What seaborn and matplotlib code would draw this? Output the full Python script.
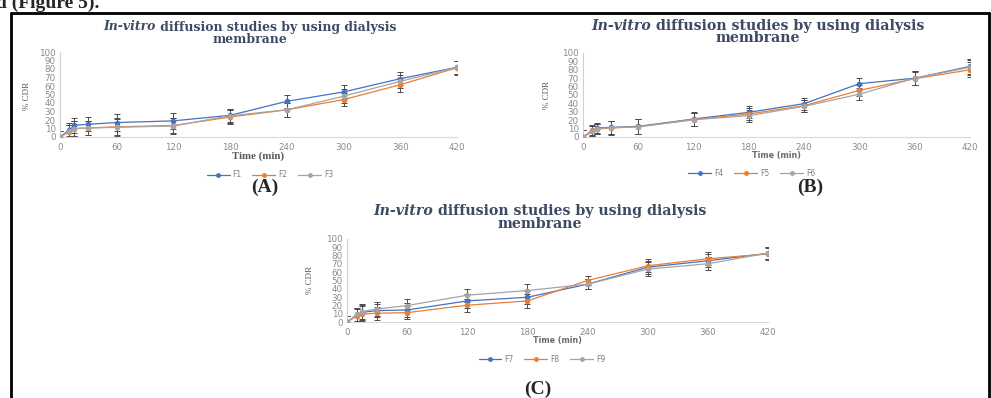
import matplotlib
matplotlib.use("Agg")
import matplotlib.pyplot as plt
import seaborn as sns
import pandas as pd
from matplotlib.lines import Line2D

# data
times = [0, 10, 15, 30, 60, 120, 180, 240, 300, 360, 420]

f1 = [0, 8.6, 13.7, 15, 17, 19, 25.5, 42, 53, 68.6, 82]
f2 = [0, 6, 10, 10.6, 12, 13.5, 23.5, 32, 44, 61.5, 81.5]
f3 = [0, 6.7, 10, 10.6, 11.4, 13, 25, 32, 48, 65.5, 82]
err_a = [7, 8, 9, 8, 10, 9, 8, 8, 8, 8, 8]

f4 = [0, 6.7, 10.7, 11.5, 12.7, 21.4, 29.4, 39.7, 63.5, 70, 84]
f5 = [0, 8, 9.5, 10.7, 12.3, 20.6, 27.4, 37.3, 55.5, 69.4, 80]
f6 = [0, 6.7, 10, 11, 12, 20.6, 25.4, 36.5, 51, 70, 83]
err_b = [8, 6, 6, 8, 9, 8, 7, 7, 7, 8, 9]

f7 = [0, 8.5, 11.7, 13.7, 14.5, 25.4, 29.8, 45.6, 66, 73.8, 82.8]
f8 = [0, 7.3, 9.7, 10.5, 11.3, 20.2, 25.4, 50, 67.7, 76.2, 82]
f9 = [0, 9.3, 12.5, 15.7, 19.8, 32.3, 37.9, 45.6, 63.7, 70.2, 83]
err_c = [7, 8, 9, 8, 8, 8, 8, 6, 8, 8, 7]

xticks = [0, 60, 120, 180, 240, 300, 360, 420]
yticks = list(range(0, 101, 10))

colors = ["#4472C4", "#ED7D31", "#A5A5A5"]
title_col = "#3d4a63"
tick_col = "#8a8a8a"

sns.set_style("white")
plt.rcParams["font.family"] = ["DejaVu Sans"]

W, H = 991, 398
fig = plt.figure(figsize=(W / 100, H / 100), dpi=100)


def fx(px):
    return px / W


def fy(py):
    return 1 - py / H


def mixed_title(cx, cy, target_w):
    # title line with an italic part, sized so it spans target_w pixels
    r = fig.canvas.get_renderer()
    kw = dict(weight="bold", family="DejaVu Serif", size=10, color=title_col, va="center")
    t1 = fig.text(0, 0, "In-vitro", style="italic", **kw)
    t2 = fig.text(0, 0, " diffusion studies by using dialysis", **kw)
    w = t1.get_window_extent(r).width + t2.get_window_extent(r).width
    size = 10 * target_w / w
    t1.set_fontsize(size)
    t2.set_fontsize(size)
    w1 = t1.get_window_extent(r).width
    w2 = t2.get_window_extent(r).width
    start = cx - (w1 + w2) / 2
    t1.set_position((fx(start), fy(cy)))
    t2.set_position((fx(start + w1), fy(cy)))
    return size


def panel(rect, series, names, err, title_xy, title_w, ylab_xy, xlab_y,
          xlab_serif, leg_xy, tag, tag_xy):
    left, top, right, bottom = rect
    ax = fig.add_axes([fx(left), fy(bottom), fx(right - left), (bottom - top) / H])
    df = pd.DataFrame({"t": times * 3,
                       "v": series[0] + series[1] + series[2],
                       "s": [names[0]] * len(times) + [names[1]] * len(times) + [names[2]] * len(times)})
    for vals in series:
        ax.errorbar(times, vals, yerr=err, fmt="none", ecolor="#4a4a4a",
                    elinewidth=0.7, capsize=2, capthick=0.7, zorder=1)
    sns.lineplot(data=df, x="t", y="v", hue="s", palette=colors, marker="o",
                 markersize=4, markeredgewidth=0, linewidth=0.9, ax=ax,
                 legend=False, zorder=3)
    ax.set_xlim(0, 420)
    ax.set_ylim(0, 100)
    ax.set_xticks(xticks)
    ax.set_yticks(yticks)
    ax.tick_params(length=0, labelsize=6.3, labelcolor=tick_col, pad=3)
    ax.tick_params(axis="x", pad=4)
    for s in ["top", "right"]:
        ax.spines[s].set_visible(False)
    ax.spines["left"].set_color("#d0d0d0")
    ax.spines["bottom"].set_color("#d9d9d9")
    ax.spines["left"].set_linewidth(0.8)
    ax.spines["bottom"].set_linewidth(0.8)
    ax.set_xlabel("")
    ax.set_ylabel("")

    size = mixed_title(title_xy[0], title_xy[1], title_w)
    fig.text(fx(title_xy[0]), fy(title_xy[1] + 12.5), "membrane", weight="bold",
             family="DejaVu Serif", size=size, color=title_col,
             ha="center", va="center")
    fig.text(fx(ylab_xy[0]), fy(ylab_xy[1]), "% CDR", family="Liberation Serif",
             size=6.5, color="#595959", rotation=90, ha="center", va="center")
    cx = (left + right) / 2
    if xlab_serif:
        fig.text(fx(cx), fy(xlab_y), "Time (min)", family="Liberation Serif", weight="bold",
                 size=7.8, color="#595959", ha="center", va="center")
    else:
        fig.text(fx(cx), fy(xlab_y), "Time (min)", weight="bold", size=5.8,
                 color="#6d6d6d", ha="center", va="center")
    handles = [Line2D([0], [0], color=c, lw=0.9, marker="o", markersize=3.5,
                      markeredgewidth=0) for c in colors]
    fig.legend(handles, names, loc="center", bbox_to_anchor=(fx(leg_xy[0]), fy(leg_xy[1])),
               ncol=3, frameon=False, fontsize=5.5, handlelength=3, columnspacing=1.4,
               handletextpad=0.4, labelcolor="#7f7f7f")
    fig.text(fx(tag_xy[0]), fy(tag_xy[1]), tag, family="Liberation Serif",
             weight="bold", size=14, ha="center", va="center")
    return ax


panel((60, 52, 457, 137), [f1, f2, f3], ["F1", "F2", "F3"], err_a,
      (250, 27), 294, (27, 96), 156, True, (270, 175), "(A)", (265, 187))
panel((583, 53, 970, 137), [f4, f5, f6], ["F4", "F5", "F6"], err_b,
      (758, 26), 333, (547, 95), 156, False, (752, 173), "(B)", (810, 187))
panel((347, 239, 768, 322), [f7, f8, f9], ["F7", "F8", "F9"], err_c,
      (540, 211), 333, (310, 280), 341, False, (542, 359), "(C)", (538, 389))

# page fragment and frame around the figure
fig.text(fx(-4), fy(8), "d (Figure 5).", family="Liberation Serif", weight="bold",
         size=14, va="baseline", ha="left")
frame = dict(color="black", lw=2, transform=fig.transFigure)
fig.add_artist(Line2D([fx(11), fx(989)], [fy(13), fy(13)], **frame))
fig.add_artist(Line2D([fx(11), fx(11)], [fy(13), 0], **frame))
fig.add_artist(Line2D([fx(989), fx(989)], [fy(13), 0], **frame))

fig.savefig("out.png", dpi=100)
